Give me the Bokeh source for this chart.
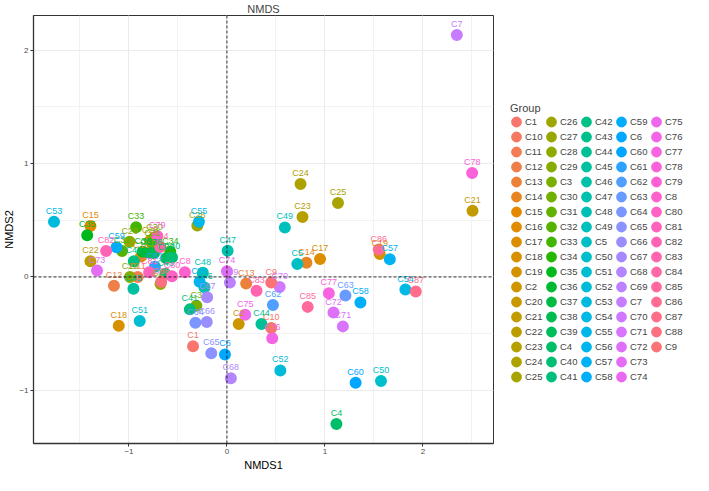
import math
from bokeh.plotting import figure
from bokeh.layouts import row
from bokeh.models import (ColumnDataSource, Range1d, Span, Legend, LegendItem,
                          SingleIntervalTicker, Title)
from bokeh.core.properties import value
from bokeh.embed import file_html
from bokeh.resources import INLINE

# ---- data (legend order = string order of the group names) ----
groups = ["C1", "C10", "C11", "C12", "C13", "C14", "C15", "C16", "C17", "C18",
          "C19", "C2", "C20", "C21", "C22", "C23", "C24", "C25", "C26", "C27",
          "C28", "C29", "C3", "C30", "C31", "C32", "C33", "C34", "C35", "C36",
          "C37", "C38", "C39", "C4", "C40", "C41", "C42", "C43", "C44", "C45",
          "C46", "C47", "C48", "C49", "C5", "C50", "C51", "C52", "C53", "C54",
          "C55", "C56", "C57", "C58", "C59", "C6", "C60", "C61", "C62", "C63",
          "C64", "C65", "C66", "C67", "C68", "C69", "C7", "C70", "C71", "C72",
          "C73", "C74", "C75", "C76", "C77", "C78", "C79", "C8", "C80", "C81",
          "C82", "C83", "C84", "C85", "C86", "C87", "C88", "C9"]

nmds1 = [-0.346, 0.452, -0.910, -1.153, 0.196, 0.811, -1.393, -0.877, 0.950, -1.104,
         1.559, 0.120, -0.785, 2.506, -1.393, 0.771, 0.751, 1.133, -0.302, -0.678,
         -0.993, -0.990, -0.312, -0.738, -0.760, -1.070, -0.927, -0.578, -1.426, -0.860,
         -0.800, -0.745, -0.620, 1.117, -0.561, -0.379, -0.950, -0.628, 0.352, -0.954,
         -0.229, 0.007, -0.246, 0.591, 0.718, 1.572, -0.890, 0.545, -1.765, 1.821,
         -0.286, -0.279, 1.662, 1.362, -1.127, -0.020, 1.313, -0.735, 0.469, 1.209,
         -0.322, -0.160, -0.206, -0.202, 0.040, 0.030, 2.346, 0.538, 1.183, 1.087,
         -1.326, 0.000, 0.186, 0.462, 1.040, 2.502, -0.711, -0.429, -0.561, -0.794,
         -1.233, 0.302, -0.681, 0.824, 1.549, 1.927, -0.671, 0.452]

nmds2 = [-0.611, -0.450, 0.000, -0.078, -0.058, 0.125, 0.450, 0.181, 0.158, -0.430,
         0.203, -0.414, 0.320, 0.583, 0.139, 0.528, 0.820, 0.653, 0.453, -0.063,
         0.311, 0.000, -0.253, 0.347, 0.290, 0.228, 0.439, 0.222, 0.367, 0.222,
         0.215, 0.208, 0.165, -1.297, 0.172, -0.286, 0.139, 0.028, -0.414, -0.105,
         -0.092, 0.231, 0.037, 0.437, 0.114, -0.917, -0.389, -0.825, 0.487, -0.111,
         0.487, -0.042, 0.156, -0.225, 0.261, -0.683, -0.933, 0.089, -0.247, -0.164,
         -0.403, -0.672, -0.397, -0.180, -0.894, -0.050, 2.134, -0.089, -0.436, -0.314,
         0.056, 0.050, -0.333, -0.541, -0.144, 0.917, 0.361, 0.042, 0.006, 0.042,
         0.228, -0.122, 0.265, -0.264, 0.242, -0.128, -0.042, -0.050]

x_limits = [-1.974, 2.72]
y_limits = [-1.469, 2.306]
legend_rows = 18


# ---- ggplot-like hue palette (hcl, c=100, l=65) ----
def hcl_hex(h, c=100.0, l=65.0):
    WY, Wu, Wv = 100.0, 0.1978398, 0.4683363
    hr = math.radians(h)
    U, V = c * math.cos(hr), c * math.sin(hr)
    Y = WY * (((l + 16) / 116) ** 3 if l > 7.999592 else l / 903.3)
    u = U / (13 * l) + Wu
    v = V / (13 * l) + Wv
    X = 9.0 * Y * u / (4 * v)
    Z = -X / 3 - 5 * Y + 3 * Y / v

    def g(t):
        t = t / WY
        t = 1.055 * t ** (1 / 2.4) - 0.055 if t > 0.00304 else 12.92 * t
        return max(0, min(255, int(round(255 * t))))
    r = g(3.240479 * X - 1.537150 * Y - 0.498535 * Z)
    gg = g(-0.969256 * X + 1.875992 * Y + 0.041556 * Z)
    b = g(0.055648 * X - 0.204043 * Y + 1.057311 * Z)
    return "#%02X%02X%02X" % (r, gg, b)


n = len(groups)
colors = [hcl_hex(15 + 360.0 * i / n) for i in range(n)]

src = ColumnDataSource(dict(x=nmds1, y=nmds2, g=groups, c=colors))

FONT = "Liberation Sans"
H = 470
W_MAIN = 510
W_LEG = 175

p = figure(width=W_MAIN, height=H, output_backend="svg", toolbar_location=None,
           x_range=Range1d(*x_limits), y_range=Range1d(*y_limits),
           min_border_left=22, min_border_right=17,
           min_border_top=0, min_border_bottom=0,
           background_fill_color="white", border_fill_color="white")

p.title.text = "NMDS"
p.title.align = "center"
p.title.text_font = FONT
p.title.text_font_size = "11px"
p.title.text_font_style = "normal"
p.title.standoff = 1

# x-axis title as a compact title below the axis
p.add_layout(Title(text="NMDS1", align="center", text_font=FONT,
                   text_font_size="11px", text_font_style="normal",
                   text_color="black", standoff=0, offset=0), "below")
p.yaxis.axis_label = "NMDS2"
p.yaxis.axis_label_text_font = FONT
p.yaxis.axis_label_text_font_size = "11px"
p.yaxis.axis_label_text_font_style = "normal"
p.yaxis.axis_label_text_color = "black"
p.yaxis.axis_label_standoff = 1
for ax in (p.xaxis[0], p.yaxis[0]):
    ax.ticker = SingleIntervalTicker(interval=1, num_minor_ticks=2)
    ax.major_label_text_font = FONT
    ax.major_label_text_font_size = "8px"
    ax.major_label_text_color = "#4D4D4D"
    ax.major_label_text_line_height = 1.0
    ax.major_label_standoff = 1
    ax.major_tick_line_color = "#333333"
    ax.major_tick_in = 0
    ax.major_tick_out = 3
    ax.minor_tick_line_color = None
    ax.axis_line_color = "#333333"
    ax.axis_line_width = 1.3

for gr in (p.xgrid[0], p.ygrid[0]):
    gr.grid_line_color = "#EBEBEB"
    gr.grid_line_width = 1
    gr.minor_grid_line_color = "#EFEFEF"
    gr.minor_grid_line_width = 0.8

p.outline_line_color = "#333333"
p.outline_line_width = 1
p.outline_line_alpha = 1

p.add_layout(Span(location=0, dimension="height", line_color="black",
                  line_width=0.8, line_dash="3 2"))
p.add_layout(Span(location=0, dimension="width", line_color="black",
                  line_width=0.8, line_dash="3 2"))

pts = p.scatter("x", "y", source=src, size=6, line_width=6,
                fill_color="c", line_color="c")
p.text("x", "y", text="g", source=src, y_offset=-11, text_color="c",
       text_align="center", text_baseline="middle", text_font_size="9px",
       text_font=value(FONT))

# ---- legend panel: its own figure, glyphs kept outside its (empty) ranges ----
lf = figure(width=W_LEG, height=H, output_backend="svg", toolbar_location=None,
            x_range=Range1d(100, 101), y_range=Range1d(100, 101),
            x_axis_type=None, y_axis_type=None, min_border=0,
            outline_line_color=None, background_fill_color="white",
            border_fill_color="white")
lr = lf.scatter("x", "y", source=src, size=6, line_width=6,
                fill_color="c", line_color="c")

ROW = 15
legend = Legend(
    items=[LegendItem(label=gname, renderers=[lr], index=i)
           for i, gname in enumerate(groups)],
    nrows=legend_rows, title="Group", location=(0, 59),
    orientation="vertical",
    glyph_width=12, glyph_height=ROW, label_standoff=3,
    label_height=ROW, label_width=20, spacing=0, padding=1, margin=0,
    border_line_color=None, background_fill_alpha=0,
    title_text_font=FONT, title_text_font_size="11px",
    title_text_font_style="normal", title_standoff=0,
    label_text_font=FONT, label_text_font_size="9.5px")
lf.add_layout(legend, "center")

open("out.html", "w").write(file_html(row(p, lf), INLINE))
